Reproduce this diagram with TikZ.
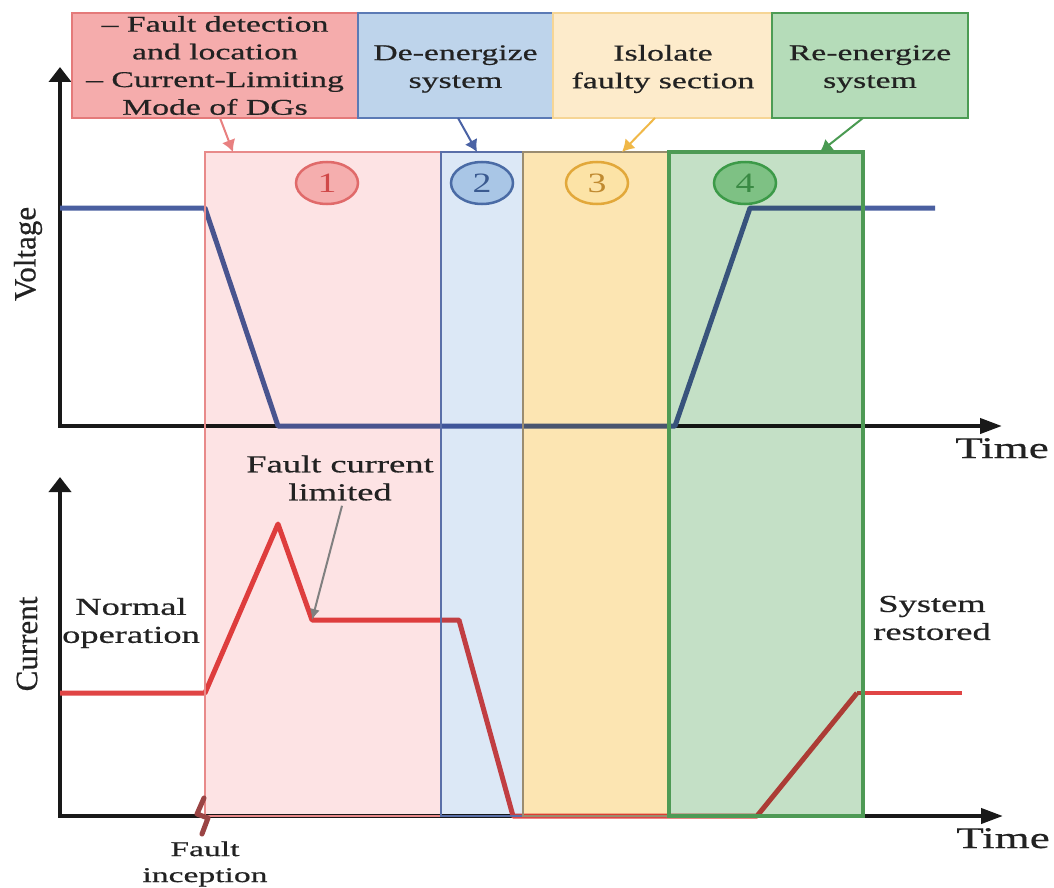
\documentclass[tikz,border=0pt]{standalone}
\usepackage{fontspec}
\setmainfont{Liberation Serif}
\newfontfamily\widefont{Liberation Serif}[FakeStretch=1.5,FakeBold=0.6]
\newfontfamily\numfont{Liberation Serif}[FakeStretch=1.35]
\newfontfamily\incfont{Liberation Serif}[FakeStretch=1.6,FakeBold=0.6]
\newfontfamily\tallfont{Liberation Serif}[FakeBold=0.6]
\usetikzlibrary{arrows.meta,shapes.geometric,calc}

% curve colours
\definecolor{vblue}{HTML}{4A5FA0}
\definecolor{cred}{HTML}{E04545}
\definecolor{textgray}{HTML}{222222}
\definecolor{faultmark}{HTML}{9A4444}
\definecolor{pointergray}{HTML}{808080}
% stage bands
\definecolor{ph1fill}{HTML}{FDE3E4}\definecolor{ph1line}{HTML}{E88A8A}
\definecolor{ph2fill}{HTML}{DCE8F6}\definecolor{ph2line}{HTML}{5A6FA8}
\definecolor{ph3fill}{HTML}{FCE5B2}\definecolor{ph3line}{HTML}{9A8C70}
\definecolor{ph4fill}{HTML}{C4E0C6}\definecolor{ph4line}{HTML}{4E9A55}
% header boxes
\definecolor{bx1fill}{HTML}{F5ACAC}\definecolor{bx1line}{HTML}{E47A7A}
\definecolor{bx2fill}{HTML}{BED4EB}\definecolor{bx2line}{HTML}{5B7AB5}
\definecolor{bx3fill}{HTML}{FDEBCB}\definecolor{bx3line}{HTML}{F6D595}
\definecolor{bx4fill}{HTML}{B5DCB9}\definecolor{bx4line}{HTML}{4C9C54}
% header arrows
\definecolor{ar1}{HTML}{E88080}\definecolor{ar2}{HTML}{4A62A4}
\definecolor{ar3}{HTML}{F0B848}\definecolor{ar4}{HTML}{4A9A52}
% stage markers
\definecolor{st1fill}{HTML}{F5AEAE}\definecolor{st1line}{HTML}{E06A6A}\definecolor{st1text}{HTML}{D04848}
\definecolor{st2fill}{HTML}{A9C6E6}\definecolor{st2line}{HTML}{4A6BA5}\definecolor{st2text}{HTML}{3A5A90}
\definecolor{st3fill}{HTML}{FCE3A6}\definecolor{st3line}{HTML}{E2A83A}\definecolor{st3text}{HTML}{C08A30}
\definecolor{st4fill}{HTML}{7EC184}\definecolor{st4line}{HTML}{3C9A48}\definecolor{st4text}{HTML}{3A8A44}

\tikzset{
  boxnode/.style={rectangle, inner sep=0pt, outer sep=0pt, minimum height=105pt, line width=2pt},
  boxtext/.style={align=center, text=textgray, inner sep=0pt,
    font=\widefont\fontsize{22.5}{27.7}\selectfont},
  phasenode/.style={rectangle, inner sep=0pt, outer sep=0pt, minimum height=664pt},
  stagemark/.style={ellipse, minimum width=62pt, minimum height=42pt, inner sep=0pt,
    line width=2.5pt, font=\numfont\fontsize{28}{28}\selectfont},
  axisline/.style={line width=4pt, draw=black!90},
  plotcurve/.style={line width=5pt, line join=round},
  headarrow/.style={line width=2pt, -{Latex[length=12pt,width=14pt]}},
  plaintext/.style={align=center, text=textgray, inner sep=0pt,
    font=\widefont\fontsize{24.3}{28}\selectfont},
  axistitle/.style={text=textgray, inner sep=0pt, font=\tallfont\fontsize{31}{31}\selectfont},
  timetext/.style={text=textgray, inner sep=0pt, anchor=base,
    font=\widefont\fontsize{30}{30}\selectfont}
}

\begin{document}
\begin{tikzpicture}[x=1pt,y=-1pt]
\useasboundingbox (0,0) rectangle (1054,888);

% ---------- axes ----------
\coordinate (vtop) at (60,67);
\coordinate (vorig) at (60,426);
\coordinate (vend) at (1002,426);
\coordinate (ctop) at (60,477);
\coordinate (corig) at (60,816);
\coordinate (cend) at (1003,816);
\draw[axisline, {Triangle[length=15pt,width=22pt]}-{Triangle[length=22pt,width=15pt]}]
  (vtop) -- (vorig) -- (vend);
\draw[axisline, {Triangle[length=15pt,width=22pt]}-{Triangle[length=22pt,width=15pt]}]
  (ctop) -- (corig) -- (cend);

% ---------- voltage ----------
\coordinate (v0) at (60,208);
\coordinate (v1) at (205,208);
\coordinate (v2) at (278,426);
\coordinate (v3) at (675,426);
\coordinate (v4) at (750,208);
\coordinate (v5) at (935,208);
\draw[plotcurve, vblue] (v0) -- (v1) -- (v2) -- (v3) -- (v4) -- (v5);

% ---------- current ----------
\coordinate (c0) at (60,693);
\coordinate (c1) at (205,693);
\coordinate (c2) at (278,524);
\coordinate (c3) at (312,620);
\coordinate (c4) at (459,620);
\coordinate (c5) at (513,816);
\coordinate (c6) at (757,816);
\coordinate (c7) at (857,693);
\coordinate (c8) at (962,693);
\draw[plotcurve, cred] (c0) -- (c1) -- (c2) -- (c3) -- (c4) -- (c5) -- (c6) -- (c7);
\draw[line width=3.5pt, cred] (c7) -- (c8);

% ---------- stage bands (tinting what lies below) ----------
\begin{scope}[blend mode=multiply]
  \node[phasenode, fill=ph1fill, minimum width=236pt] (p1) at (323,484) {};
  \node[phasenode, fill=ph2fill, minimum width=82pt]  (p2) at (482,484) {};
  \node[phasenode, fill=ph3fill, minimum width=146pt] (p3) at (596,484) {};
  \node[phasenode, fill=ph4fill, minimum width=194pt] (p4) at (766,484) {};
\end{scope}
\draw[ph1line, line width=2.5pt] (p1.north west) rectangle (p1.south east);
\draw[ph2line, line width=2.5pt] (p2.north west) rectangle (p2.south east);
\draw[ph3line, line width=2pt]   (p3.north west) rectangle (p3.south east);
\draw[ph4line, line width=3.5pt] (p4.north west) rectangle (p4.south east);

% ---------- stage markers ----------
\node[stagemark, fill=st1fill, draw=st1line, text=st1text] (s1) at (327,183) {1};
\node[stagemark, fill=st2fill, draw=st2line, text=st2text] (s2) at (482,183) {2};
\node[stagemark, fill=st3fill, draw=st3line, text=st3text] (s3) at (597,183) {3};
\node[stagemark, fill=st4fill, draw=st4line, text=st4text] (s4) at (745,183) {4};

% ---------- header boxes ----------
\node[boxnode, fill=bx1fill, draw=bx1line, minimum width=286pt] (b1) at (215,65.5) {};
\node[boxnode, fill=bx2fill, draw=bx2line, minimum width=195pt] (b2) at (455.5,65.5) {};
\node[boxnode, fill=bx3fill, draw=bx3line, minimum width=219pt] (b3) at (662.5,65.5) {};
\node[boxnode, fill=bx4fill, draw=bx4line, minimum width=196pt] (b4) at (870,65.5) {};

\node[boxtext] (t1) at (215,65.5) {– Fault detection\\and location\\– Current-Limiting\\Mode of DGs};
\node[boxtext] (t2) at (455.5,69) {De-energize\\system};
\node[boxtext] (t3) at (663,69) {Islolate\\faulty section};
\node[boxtext] (t4) at (870,69) {Re-energize\\system};

\draw[headarrow, ar1] ([xshift=5pt]b1.south) -- ([xshift=-90pt]p1.north);
\draw[headarrow, ar2] ([xshift=2.5pt]b2.south) -- ([xshift=-5pt]p2.north);
\draw[headarrow, ar3] ([xshift=-7.5pt]b3.south) -- ([xshift=26pt]p3.north);
\draw[headarrow, ar4] ([xshift=-7pt]b4.south) -- ([xshift=54pt]p4.north);

% ---------- labels ----------
\node[axistitle, rotate=90] (vlab) at (28,254) {Voltage};
\node[axistitle, rotate=90] (clab) at (27,644) {Current};
\node[timetext] (vtime) at (1002,458) {Time};
\node[timetext] (ctime) at (1003,848) {Time};

\node[plaintext] (fcl) at (340,478) {Fault current\\limited};
\draw[line width=2pt, pointergray, -{Latex[length=11pt,width=10pt]}]
  ([xshift=2pt,yshift=-5pt]fcl.south) -- (c3);

\node[plaintext] (normal) at (131,623) {Normal\\operation};
\node[plaintext] (restored) at (932,618) {System\\restored};

% fault inception marker on the time axis
\draw[faultmark, line width=5pt, line join=round, line cap=round]
  (204,798) -- (197,814) -- (208,818) -- (202,834);
\node[align=center, text=textgray, inner sep=0pt,
  font=\incfont\fontsize{21}{26}\selectfont] (incep) at (205,864) {Fault\\inception};
\end{tikzpicture}
\end{document}
